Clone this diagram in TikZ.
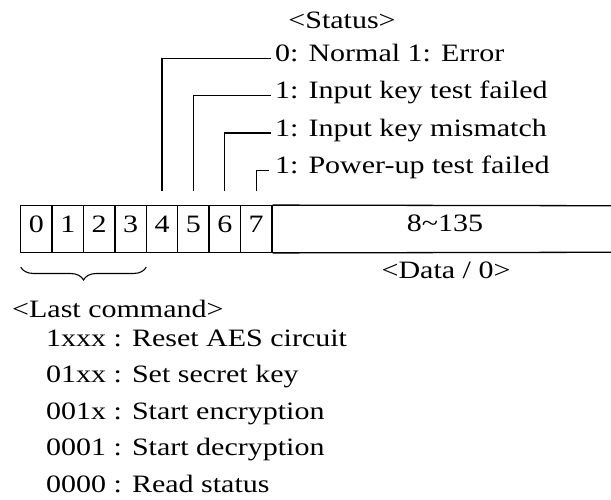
\documentclass[tikz,border=0pt]{standalone}
\usepackage{fontspec}
\setmainfont{Liberation Serif}[FakeStretch=1.2]
\usetikzlibrary{decorations.pathreplacing}
\begin{document}
\begin{tikzpicture}[x=1pt,y=-1pt,
  txt/.style={inner sep=0pt,text height=0.7em,text depth=0pt,font=\fontsize{25}{30}\selectfont},
  cell/.style={draw,line width=1.3pt,minimum width=31.4pt,minimum height=46.5pt,inner sep=0pt,
    text height=0.7em,text depth=0pt,font=\fontsize{25}{30}\selectfont},
  conn/.style={line width=1.3pt}]
\useasboundingbox (0,0) rectangle (611,500);
% register cells
\foreach \i in {0,...,7}{
  \node[cell] (c\i) at ({36.4+31.4*\i},229) {\i};
}
\coordinate (dtop) at (620,205.75);
\coordinate (dbot) at (620,252.25);
\begin{scope}
\clip (0,0) rectangle (611,500);
\draw[line width=1.3pt] (c7.north east) -- (dtop);
\draw[line width=1.3pt] (c7.south east) -- (dbot);
\end{scope}
\node[txt] (data) at (445,228) {8\textasciitilde135};
\node[txt] (datalbl) at (446,275) {<Data / 0>};
% status
\node[txt] (status) at (342,25) {<Status>};
\node[txt,anchor=west] (s0) at (275,58.3) {0: Normal 1: Error};
\node[txt,anchor=west] (s1) at (275,95.5) {1: Input key test failed};
\node[txt,anchor=west] (s2) at (275,133) {1: Input key mismatch};
\node[txt,anchor=west] (s3) at (275,170.5) {1: Power-up test failed};
\draw[conn] ([yshift=14pt]c4.north) |- ([xshift=-4.5pt]s0.west);
\draw[conn] ([yshift=14pt]c5.north) |- ([xshift=-4.5pt]s1.west);
\draw[conn] ([yshift=14pt]c6.north) |- ([xshift=-4.5pt]s2.west);
\draw[conn] ([yshift=14pt]c7.north) |- ([xshift=-6pt]s3.west);
% brace
\coordinate (bl) at (20.7,267);
\coordinate (br) at (146.3,267);
\draw[line width=1.1pt,decorate,decoration={brace,mirror,amplitude=13pt,aspect=0.5}] (bl) -- (br);
% last command
\node[txt,anchor=west] (last) at (12,314) {<Last command>};
\node[txt,anchor=west] (l1) at (46,342.5) {1xxx : Reset AES circuit};
\node[txt,anchor=west] (l2) at (46,379) {01xx : Set secret key};
\node[txt,anchor=west] (l3) at (46,415.5) {001x : Start encryption};
\node[txt,anchor=west] (l4) at (46,452) {0001 : Start decryption};
\node[txt,anchor=west] (l5) at (46,488.5) {0000 : Read status};
\end{tikzpicture}
\end{document}
